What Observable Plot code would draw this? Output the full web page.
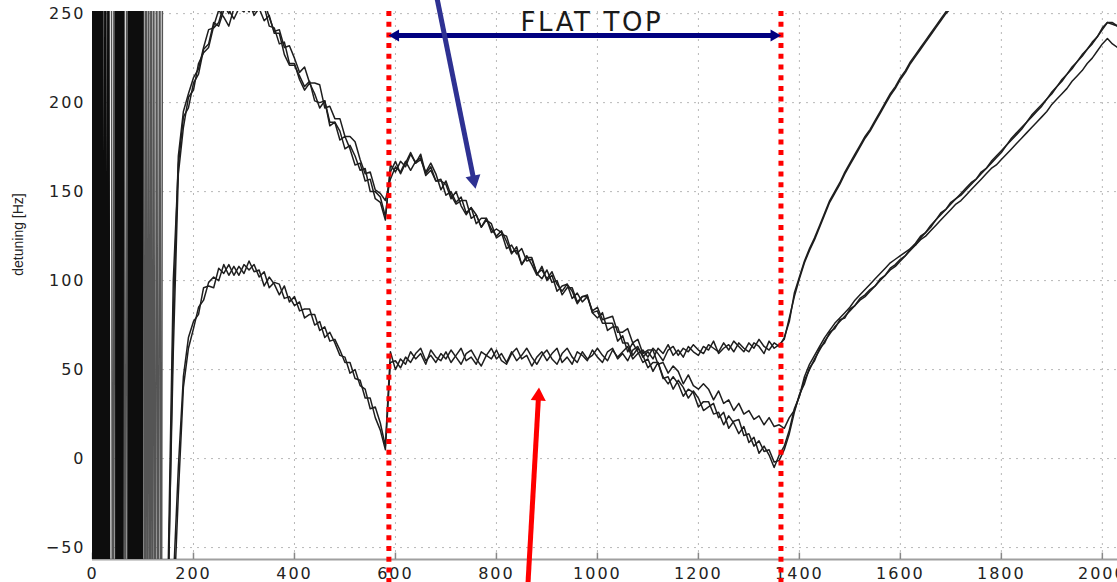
<!DOCTYPE html>
<html><head><meta charset="utf-8">
<script src="https://cdn.jsdelivr.net/npm/d3@7"></script>
<script src="https://cdn.jsdelivr.net/npm/@observablehq/plot@0.6"></script>
<style>
html,body{margin:0;padding:0;background:#fff;}
#chart{width:1117px;height:582px;overflow:hidden;}
#chart svg{overflow:hidden;display:block;}
</style></head><body><div id="chart"></div>
<script>
// ---- axes / ticks ----
const xTicks = [0, 200, 400, 600, 800, 1000, 1200, 1400, 1600, 1800, 2000];
const yTicks = [-50, 0, 50, 100, 150, 200, 250];
const xDomain = [0, 2030];
const yDomain = [-56.7, 251.2];
const yLabel = "detuning [Hz]";

// ---- sampling positions of the traces (every 10 units from 150 to 2030) ----
const xGrid = d3.range(150, 2031, 10);

// ---- traces ----
const seriesA1 = [-60, 100, 165, 192, 197,
 211, 216, 230, 233, 245, 243, 252, 252, 247, 253,
 251, 257, 249, 253, 254, 243, 242, 233, 234, 222,
 222, 213, 207, 211, 205, 197, 201, 189, 189, 179,
 181, 174, 165, 166, 156, 157, 146, 144, 134, 165,
 161, 167, 164, 171, 166, 171, 160, 164, 156, 156,
 154, 146, 150, 142, 137, 141, 137, 130, 134, 132,
 124, 126, 125, 116, 117, 109, 114, 109, 103, 108,
 100, 103, 94, 97, 98, 90, 93, 88, 91, 82,
 83, 76, 76, 76, 66, 69, 60, 65, 60, 54,
 56, 49, 54, 46, 42, 46, 42, 35, 39, 37,
 29, 32, 32, 25, 26, 19, 24, 20, 14, 18,
 9, 12, 3, 7, 2, -5, 2, 7, 16, 28,
 35, 44, 50, 56, 61, 66, 70, 74, 77, 80,
 83, 86, 89, 91, 94, 97, 100, 103, 106, 108,
 111, 114, 117, 120, 124, 127, 130, 134, 137, 140,
 143, 146, 148, 151, 154, 157, 160, 163, 166, 169,
 172, 176, 179, 182, 185, 189, 192, 195, 198, 202,
 205, 209, 212, 216, 219, 223, 226, 230, 233, 237,
 241, 245, 244, 243];

const seriesA2 = [-70, 60, 160, 186, 203,
 207, 222, 228, 231, 243, 252, 248, 243, 253, 252,
 255, 251, 257, 253, 246, 249, 239, 239, 227, 221,
 221, 215, 209, 212, 201, 200, 201, 187, 189, 184,
 174, 176, 170, 162, 163, 150, 150, 147, 136, 161,
 167, 160, 166, 172, 166, 168, 161, 166, 160, 151,
 156, 148, 143, 145, 145, 135, 137, 130, 135, 129,
 125, 128, 122, 115, 119, 109, 113, 113, 104, 101,
 106, 99, 100, 92, 96, 96, 88, 91, 92, 82,
 79, 82, 72, 74, 74, 65, 65, 58, 62, 58,
 51, 54, 54, 45, 46, 39, 44, 40, 34, 38,
 34, 27, 29, 31, 23, 26, 17, 21, 22, 13,
 14, 7, 10, 4, 5, -2, -1, 5, 14, 26,
 36, 42, 51, 55, 62, 65, 71, 73, 78, 79,
 84, 86, 90, 92, 95, 97, 101, 103, 107, 109,
 112, 114, 118, 121, 125, 127, 131, 134, 138, 140,
 144, 146, 149, 152, 155, 157, 161, 163, 167, 170,
 173, 176, 180, 183, 186, 189, 193, 196, 199, 202,
 206, 209, 213, 216, 220, 223, 227, 230, 234, 237,
 242, 245, 245, 243];

const seriesA3 = [-80, 80, 170, 195, 205,
 214, 219, 231, 241, 242, 245, 255, 250, 257, 253,
 253, 259, 251, 254, 257, 248, 240, 241, 231, 232,
 225, 217, 220, 211, 211, 210, 197, 198, 191, 191,
 181, 181, 178, 168, 160, 161, 151, 149, 145, 157,
 164, 161, 167, 162, 167, 169, 159, 162, 156, 157,
 148, 150, 144, 147, 138, 141, 132, 135, 135, 127,
 129, 127, 118, 120, 115, 118, 111, 112, 104, 106,
 101, 105, 98, 94, 98, 94, 87, 91, 91, 83,
 85, 78, 79, 80, 71, 71, 73, 65, 67, 59,
 61, 61, 53, 54, 48, 52, 49, 42, 47, 41,
 39, 42, 39, 33, 38, 31, 33, 27, 31, 25,
 27, 22, 24, 19, 23, 18, 19, 17, 23, 27,
 35, 46, 53, 58, 63, 68, 72, 76, 79, 82,
 85, 89, 92, 95, 98, 101, 104, 107, 110, 112,
 114, 116, 118, 120, 123, 125, 128, 131, 134, 137,
 140, 143, 145, 148, 151, 154, 157, 160, 163, 165,
 168, 171, 174, 177, 180, 183, 186, 189, 192, 195,
 199, 202, 205, 208, 212, 215, 218, 222, 225, 229,
 233, 236, 233, 231];

const seriesB1 = [-110, -70, -5, 46, 68,
 77, 81, 96, 97, 96, 107, 104, 109, 103, 108,
 104, 111, 105, 106, 97, 102, 98, 92, 97, 88,
 91, 83, 84, 84, 75, 77, 68, 71, 65, 58,
 57, 48, 50, 41, 39, 28, 29, 20, 7, 60,
 50, 56, 53, 60, 56, 59, 53, 61, 57, 55,
 60, 54, 58, 62, 55, 57, 53, 60, 58, 56,
 61, 55, 53, 59, 62, 56, 58, 52, 57, 60,
 55, 59, 62, 54, 57, 53, 60, 58, 55, 61,
 57, 54, 60, 62, 56, 59, 55, 61, 63, 57,
 60, 56, 62, 59, 64, 58, 61, 57, 63, 60,
 58, 63, 61, 66, 59, 62, 64, 60, 65, 62,
 60, 65, 63, 59, 66, 62, 64, 67, 79, 91,
 101, 110, 117, 123, 130, 137, 144, 149, 154, 160,
 165, 170, 175, 180, 184, 189, 194, 199, 204, 208,
 213, 217, 222, 226, 230, 234, 238, 242, 246, 250,
 253, 257, null, null, null, null, null, null, null, null,
 null, null, null, null, null, null, null, null, null, null,
 null, null, null, null, null, null, null, null, null, null,
 null, null, null, null];

const seriesB2 = [-120, -90, -20, 40, 62,
 73, 85, 89, 99, 102, 100, 109, 103, 108, 103,
 109, 106, 109, 102, 105, 96, 99, 98, 90, 91,
 86, 88, 79, 81, 81, 72, 74, 66, 67, 61,
 54, 54, 45, 44, 34, 34, 23, 16, 5, 54,
 55, 51, 57, 54, 59, 62, 55, 58, 54, 59,
 56, 61, 57, 53, 59, 61, 56, 52, 58, 62,
 56, 59, 54, 60, 55, 58, 62, 57, 53, 58,
 61, 56, 53, 59, 62, 57, 54, 60, 56, 58,
 62, 58, 55, 61, 57, 60, 63, 56, 59, 61,
 57, 62, 59, 55, 61, 63, 58, 62, 60, 64,
 61, 59, 64, 62, 60, 65, 61, 66, 63, 60,
 65, 62, 67, 63, 61, 65, 63, 68, 77, 93,
 102, 111, 118, 124, 131, 138, 145, 150, 155, 161,
 166, 171, 176, 181, 185, 190, 195, 200, 205, 209,
 214, 218, 223, 227, 231, 235, 239, 243, 247, 251,
 254, 258, null, null, null, null, null, null, null, null,
 null, null, null, null, null, null, null, null, null, null,
 null, null, null, null, null, null, null, null, null, null,
 null, null, null, null];

// ---- start-up ringing (dense, off-scale oscillation); null = break ----
const ringBlackX = [0,1.5,3,4.5,6,7.5,9,10.5,12,13.5,15,16.5,19.5,22.5,25.5,28.5,31.5,34.5,
 40,
 46,47.5,49,50.5,52,53.5,55,56.5,58,59.5,61,
 66,
 71,72.5,74,75.5,77,78.5,80,81.5,83,84.5,86,87.5,89,90.5,92,93.5,95,96.5,98,99.5];
const ringBlackY = [420,-330,410,-320,430,-310,400,-340,420,-330,410,-320,430,-310,400,-340,420,-330,
 null,
 410,-320,430,-310,400,-340,420,-330,410,-320,430,
 null,
 -310,400,-340,420,-330,410,-320,430,-310,400,-340,420,-330,410,-320,430,-310,400,-340,420];
const ringGrayX = [37,40,43,46, 60, 62,65,68,71, 90, 101,103.5,106,108.5,111,113.5,116,118.5,121,124,127,130,133,136,139];
const ringGrayY = [420,-330,410,-320, null, 430,-310,400,-340, null, 420,-330,410,-320,430,-310,400,-340,420,-330,410,-320,430,-310,400];

// ---- annotations (data units) ----
const flatTopBounds = [587, 1363.5];
const flatTopLabel = ["FLAT TOP"];
const flatTopLabelPos = {x: 989, y: 244.7};
const flatTopArrow = {xLeft: 586.5, xRight: 1363.5, shaftLeft: 602, shaftRight: 1348, y: 237.7};
const blueArrow = {x1: 681, y1: 260.5, x2: 754.7, y2: 157.2, tipX: 758.6, tipY: 151.7};
const redArrow = {x1: 861.6, y1: -74.5, x2: 883.2, y2: 34.3, tipX: 884.3, tipY: 39.9};
const yLabelPos = {x: -146.6, y: 125.9};

const names = ["A1", "A2", "A3", "B1", "B2"];
const values = [seriesA1, seriesA2, seriesA3, seriesB1, seriesB2];
values.forEach((v, k) => { if (v.length !== xGrid.length) console.error(names[k], v.length, xGrid.length); });
const rows = names.flatMap((n, k) => xGrid.map((x, i) => ({series: n, x, y: values[k][i]})));
const ringBlack = ringBlackX.map((x, i) => ({x, y: ringBlackY[i]}));
const ringGray = ringGrayX.map((x, i) => ({x, y: ringGrayY[i]}));
const fmt = d => d < 0 ? "\u2212" + (-d) : String(d);

const plot = Plot.plot({
  width: 1117, height: 582,
  marginLeft: 92, marginRight: 0, marginTop: 11, marginBottom: 23,
  x: {domain: xDomain},
  y: {domain: yDomain},
  style: {fontFamily: "DejaVu Sans", fontSize: "16px", color: "#222", background: "#fff"},
  marks: [
    Plot.gridX(xTicks.filter(d => d > 0), {stroke: "#b8b8b8", strokeOpacity: 1, strokeDasharray: "2,5"}),
    Plot.gridY(yTicks, {stroke: "#b8b8b8", strokeOpacity: 1, strokeDasharray: "2,5"}),
    Plot.ruleY([yDomain[0]], {stroke: "#a0a0a0", strokeWidth: 2}),
    Plot.ruleX(xTicks, {y1: yDomain[0], y2: yDomain[0] + 3.6, stroke: "#888", strokeWidth: 1.5}),
    Plot.ruleY(yTicks, {x1: 0, x2: 12, stroke: "#333"}),
    Plot.axisX({ticks: xTicks, tickSize: 0, tickPadding: 8, label: null, tickFormat: fmt}),
    Plot.axisY({ticks: yTicks, tickSize: 0, tickPadding: 7, label: null, tickFormat: fmt}),
    Plot.line(ringGray, {x: "x", y: "y", stroke: "#555", strokeWidth: 1.5, clip: true}),
    Plot.line(ringBlack, {x: "x", y: "y", stroke: "#0d0d0d", strokeWidth: 2, clip: true}),
    Plot.line(rows, {x: "x", y: "y", z: "series", stroke: "#1e1e1e", strokeWidth: 1.5, clip: true}),
    Plot.ruleX(flatTopBounds, {y1: yDomain[1], y2: -75, stroke: "#ff0000", strokeWidth: 5, strokeDasharray: "5,5.7"}),
    // FLAT TOP double arrow
    Plot.link([flatTopArrow], {x1: "shaftLeft", x2: "shaftRight", y1: "y", y2: "y", stroke: "#000080", strokeWidth: 5}),
    Plot.dot([flatTopArrow], {x: "xLeft", y: "y", symbol: "triangle", r: 4.5, fill: "#000080", stroke: "none", rotate: 270, dx: 6.9}),
    Plot.dot([flatTopArrow], {x: "xRight", y: "y", symbol: "triangle", r: 4.5, fill: "#000080", stroke: "none", rotate: 90, dx: -6.9}),
    Plot.text(flatTopLabel, {x: flatTopLabelPos.x, y: flatTopLabelPos.y, text: d => d, fontSize: 26, fontFamily: "DejaVu Sans", fill: "#1a1a1a", lineAnchor: "middle"}),
    // blue arrow
    Plot.link([blueArrow], {x1: "x1", y1: "y1", x2: "x2", y2: "y2", stroke: "#2E3192", strokeWidth: 5}),
    Plot.dot([blueArrow], {x: "tipX", y: "tipY", symbol: "triangle", r: 5.6, fill: "#2E3192", stroke: "none", rotate: 168.6, dx: -1.7, dy: -8.5}),
    // red arrow
    Plot.link([redArrow], {x1: "x1", y1: "y1", x2: "x2", y2: "y2", stroke: "#ff0000", strokeWidth: 5}),
    Plot.dot([redArrow], {x: "tipX", y: "tipY", symbol: "triangle", r: 5.6, fill: "#ff0000", stroke: "none", rotate: 3.2, dx: -0.5, dy: 8.6}),
    // y label
    Plot.text([yLabel], {x: yLabelPos.x, y: yLabelPos.y, text: d => d, rotate: -90, fontSize: 14, fontFamily: "Liberation Sans", fill: "#222"})
  ]
});
document.getElementById("chart").appendChild(plot);
// stretch tick labels and title horizontally like the original
d3.select(plot).selectAll('g[aria-label="x-axis tick label"] text, g[aria-label="y-axis tick label"] text').attr("letter-spacing", "2px");
d3.select(plot).selectAll('g[aria-label="text"] text').filter(function(){return this.textContent === "FLAT TOP";}).attr("letter-spacing", "2.6px");
</script></body></html>
